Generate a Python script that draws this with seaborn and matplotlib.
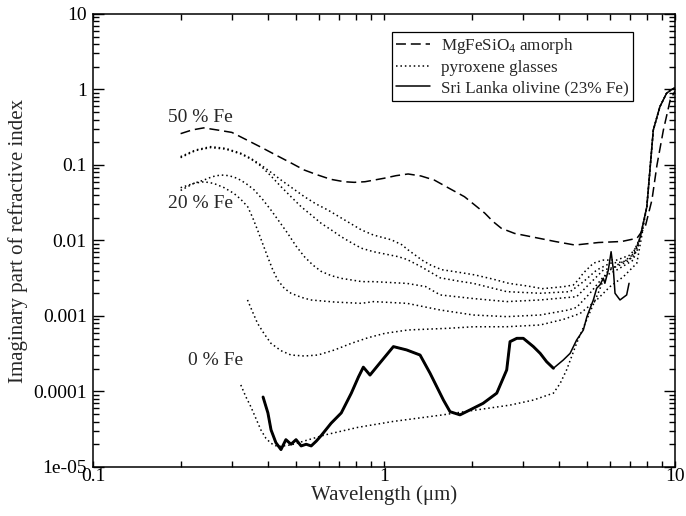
import numpy as np
import matplotlib
matplotlib.use('Agg')
import matplotlib.pyplot as plt
from matplotlib.ticker import FixedLocator, FixedFormatter, LogLocator, NullFormatter
import seaborn as sns

# ── values (wavelength in micron, k = imaginary index) ──
# MgFeSiO4 amorphous (50 % Fe), dashed
wl_amorph = [0.20, 0.219, 0.24, 0.267, 0.30, 0.334, 0.38, 0.424, 0.48, 0.531, 0.59, 0.656,
             0.73, 0.79, 0.86, 1.0, 1.10, 1.21, 1.34, 1.49, 1.66, 1.89, 2.05, 2.22, 2.37,
             2.53, 2.81, 3.21, 3.87, 4.53, 5.46, 6.56, 7.4, 7.9, 8.33, 8.67, 9.12, 9.63, 10.0]
k_amorph = [0.26, 0.291, 0.31, 0.291, 0.27, 0.219, 0.17, 0.136, 0.106, 0.086, 0.074, 0.0646,
            0.060, 0.0589, 0.060, 0.0667, 0.0722, 0.076, 0.0715, 0.063, 0.050, 0.038, 0.0295,
            0.023, 0.0178, 0.0145, 0.0124, 0.0112, 0.0097, 0.0087, 0.0094, 0.0097, 0.0107,
            0.0152, 0.0344, 0.10, 0.29, 0.73, 0.95]

# pyroxene glasses, dotted: two high-iron curves, the two "20 % Fe" curves,
# one low-iron curve and the 0 % Fe curve
wl_pyr1 = [0.20, 0.225, 0.2535, 0.2857, 0.322, 0.3485, 0.3775, 0.4088, 0.4424, 0.4856,
           0.5326, 0.5845, 0.6415, 0.732, 0.836, 0.92, 1.06, 1.15, 1.21, 1.28, 1.35, 1.45,
           1.58, 1.8, 2.05, 2.35, 2.69, 3.1, 3.5, 4.13, 4.47, 4.65, 4.84, 5.24, 5.67, 6.3,
           7.0, 7.39, 7.59, 8.0, 8.2, 8.42, 8.87, 9.35, 9.73, 10.0]
k_pyr1 = [0.129, 0.158, 0.175, 0.166, 0.143, 0.1225, 0.100, 0.080, 0.0633, 0.049, 0.038,
          0.0304, 0.0253, 0.0187, 0.0138, 0.0118, 0.0102, 0.0088, 0.0075, 0.0064, 0.0055,
          0.0047, 0.0041, 0.0038, 0.0035, 0.0031, 0.0027, 0.0025, 0.0023, 0.00244, 0.00257,
          0.0030, 0.0037, 0.0050, 0.0055, 0.0055, 0.0064, 0.0083, 0.011, 0.028, 0.086, 0.29,
          0.59, 0.89, 1.0, 1.05]

wl_pyr2 = [0.20, 0.225, 0.2535, 0.2857, 0.322, 0.3485, 0.3775, 0.4088, 0.4424, 0.479, 0.519,
           0.5617, 0.608, 0.6586, 0.713, 0.772, 0.836, 0.92, 1.12, 1.2, 1.34, 1.56, 1.8,
           2.03, 2.64, 3.44, 4.36, 4.84, 5.38, 5.98, 6.64, 7.39, 7.59,
           8.0, 8.2, 8.42, 8.87, 9.35, 9.73, 10.0]
k_pyr2 = [0.125, 0.155, 0.17, 0.162, 0.14, 0.12, 0.097, 0.0715, 0.0517, 0.038, 0.028, 0.0218,
          0.0169, 0.0138, 0.0112, 0.00935, 0.0079, 0.0071, 0.0061, 0.0056, 0.0045, 0.0032,
          0.0029, 0.0027, 0.0021, 0.0020, 0.0021, 0.00284, 0.00406, 0.0050, 0.0052, 0.0071,
          0.011, 0.028, 0.086, 0.29, 0.59, 0.89, 1.0, 1.05]

wl_pyr3 = [0.20, 0.222, 0.24, 0.257, 0.2746, 0.2934, 0.3134, 0.335, 0.358, 0.3824, 0.4087,
           0.4367, 0.4665, 0.4983, 0.5326, 0.569, 0.608, 0.6586, 0.713, 0.84, 0.92, 1.2, 1.39,
           1.56, 2.03, 2.64, 3.44, 4.59, 5.1, 5.67, 6.3, 7.0, 7.59,
           8.0, 8.2, 8.42, 8.87, 9.35, 9.73, 10.0]
k_pyr3 = [0.046, 0.0571, 0.063, 0.070, 0.0737, 0.0722, 0.0665, 0.0571, 0.0467, 0.0351, 0.0253,
          0.01776, 0.01245, 0.00846, 0.0061, 0.00474, 0.0039, 0.00342, 0.00315, 0.00285,
          0.00285, 0.0027, 0.00245, 0.0019, 0.0017, 0.00155, 0.00163, 0.0018, 0.0027, 0.00406,
          0.0045, 0.0055, 0.011, 0.028, 0.086, 0.29, 0.59, 0.89, 1.0, 1.05]

wl_pyr4 = [0.20, 0.222, 0.2405, 0.26, 0.282, 0.305, 0.322, 0.34, 0.3532, 0.3675, 0.3824,
           0.398, 0.414, 0.431, 0.4544, 0.479, 0.519, 0.56, 0.676, 0.836, 0.92, 1.2, 1.56,
           2.03, 2.64, 3.44, 4.3, 4.59, 5.1, 5.67, 6.3, 7.19, 7.59,
           8.0, 8.2, 8.42, 8.87, 9.35, 9.73, 10.0]
k_pyr4 = [0.050, 0.0571, 0.060, 0.057, 0.0501, 0.042, 0.0351, 0.028, 0.0203, 0.0138, 0.00918,
          0.0061, 0.00415, 0.0030, 0.00232, 0.0020, 0.00177, 0.00163, 0.00153, 0.00147,
          0.00155, 0.00147, 0.0012, 0.00103, 0.00098, 0.00103, 0.0012, 0.0013, 0.0020, 0.0033,
          0.00406, 0.0055, 0.011, 0.028, 0.086, 0.29, 0.59, 0.89, 1.0, 1.05]

wl_pyr5 = [0.3395, 0.3532, 0.3675, 0.3877, 0.4088, 0.4425, 0.479, 0.5326, 0.5925, 0.676,
           0.772, 0.882, 1.0067, 1.212, 1.666, 2.03, 2.64, 3.44, 4.13, 4.72, 5.38, 5.98, 6.64,
           7.39, 7.7, 8.0, 8.2, 8.42, 8.87, 9.35, 9.73, 10.0]
k_pyr5 = [0.00163, 0.00114, 0.0008, 0.000578, 0.000434, 0.000347, 0.000304, 0.000295,
          0.000304, 0.000355, 0.000434, 0.000516, 0.000589, 0.000653, 0.000687, 0.00072,
          0.00072, 0.00076, 0.00090, 0.00108, 0.00163, 0.00245, 0.0033, 0.0050, 0.012,
          0.028, 0.086, 0.29, 0.59, 0.89, 1.0, 1.05]

wl_pyr0 = [0.322, 0.335, 0.3485, 0.3627, 0.3775, 0.3927, 0.4088, 0.431, 0.479, 0.547, 0.6247,
           0.814, 1.07, 1.58, 2.08, 2.71, 3.26, 3.82, 4.03, 4.24, 4.59, 4.97, 5.5, 5.78, 6.46,
           7.16, 7.59, 8.0, 8.2, 8.42, 8.87, 9.35, 9.73, 10.0]
k_pyr0 = [1.22e-4, 8.54e-5, 6.3e-5, 4.41e-5, 3.09e-5, 2.4e-5, 2.06e-5, 1.86e-5, 1.96e-5,
          2.28e-5, 2.65e-5, 3.35e-5, 4.0e-5, 4.88e-5, 5.7e-5, 6.6e-5, 7.7e-5, 9.5e-5, 1.28e-4,
          1.93e-4, 4.35e-4, 8.9e-4, 0.0022, 0.0037, 0.0050, 0.0060, 0.011,
          0.028, 0.086, 0.29, 0.59, 0.89, 1.0, 1.05]

pyroxene = [(wl_pyr1, k_pyr1), (wl_pyr2, k_pyr2), (wl_pyr3, k_pyr3),
            (wl_pyr4, k_pyr4), (wl_pyr5, k_pyr5), (wl_pyr0, k_pyr0)]

# Sri Lanka olivine (23 % Fe), solid
wl_oliv = [0.384, 0.392, 0.399, 0.409, 0.425, 0.4425, 0.46, 0.479, 0.4985, 0.519, 0.54, 0.562,
           0.585, 0.608, 0.658, 0.713, 0.772, 0.817, 0.849, 0.895, 0.969, 1.077, 1.196, 1.33,
           1.44, 1.6, 1.686, 1.824, 1.975, 2.19, 2.44, 2.64, 2.71, 2.86, 3.01, 3.26, 3.44,
           3.62, 3.82, 4.13, 4.36, 4.59, 4.84, 4.98, 5.24, 5.38, 5.52, 5.67, 5.74, 5.9, 6.03,
           6.14, 6.22, 6.47, 6.82, 6.95]
k_oliv = [8.45e-5, 6.5e-5, 5.2e-5, 3.1e-5, 2.1e-5, 1.7e-5, 2.3e-5, 2.0e-5, 2.3e-5, 1.9e-5,
          2.0e-5, 1.9e-5, 2.2e-5, 2.6e-5, 3.8e-5, 5.2e-5, 9.5e-5, 1.56e-4, 2.1e-4, 1.65e-4,
          2.4e-4, 3.93e-4, 3.55e-4, 3.04e-4, 1.74e-4, 7.7e-5, 5.4e-5, 4.9e-5, 5.7e-5, 6.97e-5,
          9.5e-5, 1.93e-4, 4.57e-4, 5.06e-4, 5.06e-4, 3.93e-4, 3.2e-4, 2.48e-4, 2.03e-4,
          2.61e-4, 3.2e-4, 4.8e-4, 6.5e-4, 9.8e-4, 1.63e-3, 2.33e-3, 2.58e-3, 3.16e-3,
          2.71e-3, 4.07e-3, 7.1e-3, 4.07e-3, 2.0e-3, 1.63e-3, 1.9e-3, 2.71e-3]
noisy_until = 4.0   # the measured spectrum looks fuzzy (thicker) below ~4 micron

xticks = [0.1, 1, 10]
xtick_labels = ['0.1', '1', '10']
yticks = [1e-5, 1e-4, 1e-3, 1e-2, 1e-1, 1, 10]
ytick_labels = ['1e-05', '0.0001', '0.001', '0.01', '0.1', '1', '10']

# ── style ────────────────────────────────────────────────────────────────
sns.set_theme(style='ticks')
plt.rcParams['font.family'] = ['Liberation Serif', 'DejaVu Serif']
plt.rcParams['mathtext.fontset'] = 'custom'
plt.rcParams['mathtext.rm'] = 'Liberation Serif'
plt.rcParams['mathtext.it'] = 'Liberation Serif:italic'

fig = plt.figure(figsize=(6.86, 5.16), dpi=100)
ax = fig.add_axes([0.1356, 0.095, 0.8484, 0.8779])
ax.set_xscale('log')
ax.set_yscale('log')

dashed = (0, (6.5, 3.2))
dotted = (0, (1.0, 1.9))

sns.lineplot(x=wl_amorph, y=k_amorph, ax=ax, color='black', lw=1.1,
             linestyle=dashed, estimator=None, label=r'MgFeSiO$_\mathregular{4}$ amorph')
for i, (wl, k) in enumerate(pyroxene):
    sns.lineplot(x=wl, y=k, ax=ax, color='black', lw=1.1, linestyle=dotted,
                 estimator=None, label='pyroxene glasses' if i == 0 else None)

oliv_wl = np.array(wl_oliv)
oliv_k = np.array(k_oliv)
sns.lineplot(x=oliv_wl, y=oliv_k, ax=ax, color='black', lw=1.1, estimator=None,
             label='Sri Lanka olivine (23% Fe)')
fuzzy = oliv_wl <= noisy_until
ax.plot(oliv_wl[fuzzy], oliv_k[fuzzy], color='black', lw=2.1, solid_joinstyle='round')

ax.text(0.181, 0.43, '50 % Fe', fontsize=14, va='center', ha='left')
ax.text(0.181, 0.031, '20 % Fe', fontsize=14, va='center', ha='left')
ax.text(0.212, 2.6e-4, '0 % Fe', fontsize=14, va='center', ha='left')

ax.set_xlim(0.1, 10)
ax.set_ylim(1e-5, 10)
ax.xaxis.set_major_locator(FixedLocator(xticks))
ax.xaxis.set_major_formatter(FixedFormatter(xtick_labels))
ax.yaxis.set_major_locator(FixedLocator(yticks))
ax.yaxis.set_major_formatter(FixedFormatter(ytick_labels))
ax.xaxis.set_minor_locator(LogLocator(base=10, subs=np.arange(2, 10), numticks=20))
ax.yaxis.set_minor_locator(LogLocator(base=10, subs=np.arange(2, 10), numticks=20))
ax.xaxis.set_minor_formatter(NullFormatter())
ax.yaxis.set_minor_formatter(NullFormatter())

ax.tick_params(which='both', direction='in', top=True, right=True, width=1.0,
               colors='black', labelsize=14)
ax.tick_params(axis='y', which='major', length=8, pad=4.5)
ax.tick_params(axis='y', which='minor', length=4.3)
ax.tick_params(axis='x', which='both', length=4)
ax.tick_params(axis='x', which='major', pad=1)
for sp in ax.spines.values():
    sp.set_linewidth(1.1)
    sp.set_color('black')

ax.set_xlabel('Wavelength (μm)', fontsize=15, labelpad=0)
ax.set_ylabel('Imaginary part of refractive index', fontsize=15, labelpad=4)

leg = ax.legend(loc='upper right', bbox_to_anchor=(0.927, 0.961), frameon=True,
                fancybox=False, edgecolor='black', framealpha=1, fontsize=12.3,
                handlelength=2.0, handletextpad=0.6, labelspacing=0.25,
                borderpad=0.25, borderaxespad=0)
leg.get_frame().set_linewidth(0.9)

fig.savefig('out.png', dpi=100)
